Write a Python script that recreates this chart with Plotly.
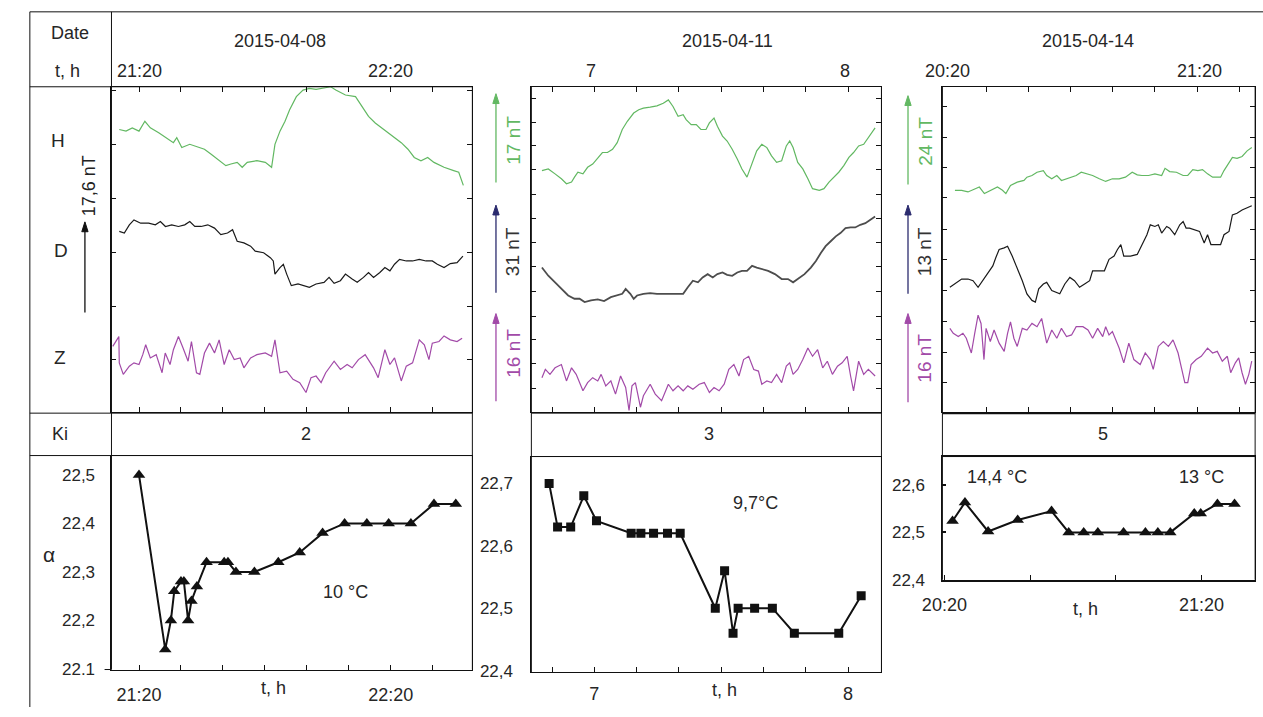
import plotly.graph_objects as go

W, H = 1263, 717
def fx(px): return px / W
def fy(py): return 1 - py / H

# ---------------- DATA ----------------
# Panel 1 (2015-04-08), time in minutes after 21:20, traces in relative units of panel height
p1_H_t = [-4.7,-3.1,-1.6,0,1.4,2.7,4.7,6.6,8.2,9.0,10.2,12.1,13.3,15.6,17.2,18.8,20.7,21.9,23.4,24.6,25.8,28.1,30.1,31.6,32.4,33.6,34.8,35.9,37.5,39.1,40.6,42.2,43.8,45.7,46.9,49.2,51.6,53.1,54.7,56.3,57.8,59.4,60.9,62.5,64.1,65.6,67.2,68.8,70.3,72.7,75.0,76.2,77.3]
p1_H_v = [86.0,85.5,86.5,85.5,88.5,86.5,85.0,83.5,82.0,83.5,80.5,81.5,81.0,80.0,78.5,77.0,75.0,75.5,76.0,74.5,76.0,76.5,76.0,74.5,81.5,85.5,88.5,92.0,96.0,98.0,98.5,98.2,98.5,99.0,98.0,96.5,96.0,93.0,90.0,88.0,86.5,85.0,83.5,82.0,80.0,77.5,76.5,77.5,76.0,74.5,73.5,73.0,69.0]
p1_D_t = [-4.7,-3.5,-2.3,-1.2,0.4,2.3,3.9,5.1,6.3,7.8,9.4,10.9,12.1,13.3,14.8,16.4,18.0,19.5,21.1,22.3,23.4,25.0,26.6,27.7,29.7,31.3,32.0,32.4,33.6,34.4,35.2,36.3,37.9,39.1,40.6,42.2,44.1,45.3,46.5,48.0,49.2,50.8,52.0,53.5,54.7,55.9,57.4,58.6,59.8,60.9,62.1,63.7,65.2,66.8,68.4,69.9,71.1,72.7,74.2,75.8,77.2]
p1_D_v = [55.0,54.5,57.0,58.5,57.5,57.5,57.0,58.0,56.5,57.0,56.5,57.0,58.0,56.5,56.5,57.0,56.0,54.0,54.5,55.5,52.0,51.5,50.5,49.0,48.5,47.0,46.0,42.0,44.0,45.0,42.0,38.5,39.0,38.5,38.0,39.0,39.5,41.0,39.2,40.0,42.0,40.5,39.5,41.0,42.5,41.0,42.5,44.0,43.0,45.0,46.5,46.0,46.0,46.5,46.0,46.0,45.0,44.0,45.2,45.5,47.5]
p1_Z_t = [-6.25,-4.8,-4.7,-3.75,-2.3,-1.2,0,0.9,1.6,2.7,4.1,5.5,6.25,7.4,8.2,9.4,10.5,11.7,12.5,13.7,14.5,15.6,16.8,18.0,19.1,20.3,21.5,22.7,24.1,25.0,26.6,28.1,30.1,31.6,32.4,33.6,35.2,36.7,38.3,39.8,41.0,42.2,43.4,44.5,46.5,48.0,49.6,50.8,52.3,53.9,55.9,57.0,58.6,59.8,60.9,62.5,63.7,65.2,66.8,68.0,69.1,69.9,71.5,72.7,74.2,75.8,77.0]
p1_Z_v = [20.0,23.0,15.0,11.5,14.0,15.0,14.5,17.5,20.5,16.5,17.5,12.0,18.0,14.5,19.0,23.0,19.5,15.5,21.5,12.0,11.5,18.0,21.0,18.0,22.0,14.5,19.0,16.0,16.5,13.5,16.5,17.5,18.0,17.0,22.0,12.0,12.5,10.0,9.0,6.0,10.5,11.0,9.0,12.0,15.5,13.0,14.5,13.5,16.0,17.5,13.5,10.5,19.0,14.5,16.5,9.5,14.0,15.0,22.0,20.5,16.0,21.0,21.5,23.2,22.0,21.5,22.5]

# Panel 2 (2015-04-11), minutes after 7:00
p2_H_t = [-12.4,-10.9,-9.3,-7.8,-6.6,-5.4,-4.7,-3.9,-2.7,-1.6,-0.4,0.8,1.9,3.1,4.3,5.4,6.6,7.8,9.3,10.5,11.6,13.2,14.8,16.3,17.5,18.6,19.8,21.0,21.7,22.9,24.1,25.2,26.4,27.2,28.3,29.1,30.3,31.4,32.6,33.8,34.9,36.1,37.3,38.4,39.6,40.8,41.9,43.1,44.3,45.4,46.2,47.0,48.1,49.3,50.5,51.6,53.2,54.3,55.5,56.7,57.8,59.0,60.2,61.3,62.5,63.7,64.8,66.4]
p2_H_v = [73.5,74.0,72.5,71.0,69.5,70.0,71.5,73.0,72.5,74.5,75.5,77.5,79.0,79.0,80.0,82.0,86.0,88.5,91.0,92.0,92.5,92.8,93.2,94.0,95.0,93.0,90.0,90.5,89.0,87.5,87.5,86.0,86.0,88.0,89.5,87.0,84.0,82.5,80.0,77.0,74.0,71.5,76.0,79.5,81.5,80.5,78.0,76.0,76.5,81.0,82.5,80.5,76.0,74.0,71.0,68.0,67.5,68.0,70.0,71.5,73.0,75.0,77.5,79.0,81.0,81.5,83.5,86.5]
p2_D_t = [-12.4,-10.9,-9.3,-7.8,-6.2,-4.7,-3.5,-2.3,-0.8,0.8,2.3,3.9,5.4,6.6,7.4,8.5,9.3,10.1,11.6,13.2,14.8,16.3,17.9,19.4,21.0,22.1,23.3,24.5,25.6,26.8,28.0,29.1,30.3,31.4,32.6,33.8,34.9,36.1,37.3,38.4,39.6,41.1,42.7,44.3,45.8,47.0,48.1,49.7,51.2,52.4,53.6,54.7,55.9,57.1,58.2,59.4,60.6,61.7,62.9,64.1,65.2,66.4]
p2_D_v = [44.0,41.5,39.5,37.5,35.5,34.5,34.5,33.5,34.0,34.3,33.8,35.0,35.5,36.0,37.5,36.0,34.5,35.5,36.0,36.2,36.0,36.0,36.0,36.0,36.0,38.0,40.0,39.5,41.0,42.0,41.0,42.0,42.5,41.8,41.5,42.5,43.0,43.0,44.5,44.0,43.5,43.0,42.0,40.5,40.5,39.5,40.5,42.0,44.0,46.0,48.5,50.5,52.0,53.5,54.5,56.0,56.2,56.2,57.0,57.5,58.5,59.5]
p2_Z_t = [-12.4,-11.6,-10.5,-9.3,-7.8,-6.6,-5.4,-4.3,-2.7,-1.6,-0.4,0.8,1.6,2.7,3.9,5.0,6.2,7.4,8.2,8.9,9.7,10.9,11.6,13.2,14.4,15.9,17.5,18.6,19.8,21.0,22.1,23.3,24.8,26.0,27.2,28.3,29.5,30.7,31.8,33.0,34.2,35.3,36.5,37.7,38.8,39.6,40.8,41.9,43.1,44.3,45.4,46.2,47.0,48.1,49.3,50.5,51.6,52.8,54.0,55.1,56.3,57.5,58.6,59.8,60.6,61.3,62.5,63.7,64.8,66.4]
p2_Z_v = [10.5,13.0,11.5,13.5,14.5,9.5,13.5,11.5,6.5,9.0,10.5,9.5,11.5,8.0,9.5,5.5,11.0,7.5,0.5,8.0,9.0,1.5,5.0,8.5,5.5,3.5,8.5,6.5,8.0,6.5,8.0,7.0,8.5,9.0,6.0,7.5,6.5,8.5,13.0,14.5,11.0,16.0,17.0,13.0,12.5,8.5,9.5,9.0,11.5,9.0,14.0,15.0,11.5,13.0,16.0,19.5,17.0,19.0,13.5,15.5,11.5,14.0,15.0,17.0,11.0,6.5,15.5,11.5,13.0,11.0]

# Panel 3 (2015-04-14), minutes after 20:20
p3_H_t = [2.5,4.1,5.6,7.2,8.3,9.5,11.1,12.6,13.8,14.6,15.7,17.3,18.9,19.6,20.8,22.0,23.5,24.3,25.5,26.7,27.8,29.0,30.2,31.3,32.5,33.7,35.2,36.8,38.3,39.9,41.5,43.0,44.6,45.8,46.9,48.5,50.0,51.6,52.4,53.5,55.1,56.7,57.8,59.0,60.2,61.3,62.5,63.7,64.8,65.6,66.4,67.6,68.4,69.5,70.7,71.9,73.0]
p3_H_v = [67.5,67.5,67.0,68.0,68.5,66.5,67.5,68.5,67.5,66.5,69.0,70.0,70.5,71.5,72.0,73.0,73.5,72.0,71.0,72.0,70.5,71.0,71.5,72.0,73.0,72.5,72.0,71.0,70.2,71.0,71.0,71.5,73.0,72.2,72.0,72.0,72.5,72.0,74.2,73.2,73.0,72.0,72.0,73.8,73.5,73.8,72.5,71.5,71.5,71.5,73.5,76.0,77.5,77.2,77.8,79.5,80.5]
p3_D_t = [1.3,2.5,4.1,5.6,6.8,8.0,9.1,10.3,11.5,12.2,13.0,14.2,15.0,16.1,17.3,18.5,19.6,20.8,21.6,22.4,23.5,24.3,25.5,26.7,27.4,28.6,29.8,30.9,32.1,33.3,34.5,35.2,36.4,38.0,39.1,40.3,41.1,41.9,42.6,44.2,45.8,46.9,48.1,48.9,50.0,50.8,51.6,52.8,53.5,54.7,55.9,56.7,57.4,58.2,59.4,60.6,61.7,62.5,63.3,64.5,65.6,66.4,67.6,68.4,69.5,70.7,71.9,73.0]
p3_D_v = [38.0,39.0,40.5,40.5,40.0,38.0,40.0,42.5,44.5,47.0,49.5,50.0,50.5,47.5,44.0,40.0,36.0,34.0,33.5,37.5,39.0,39.5,37.0,36.5,36.0,39.0,41.0,40.0,38.0,39.0,40.0,43.0,43.0,43.0,46.5,47.5,49.5,51.0,47.5,47.5,48.0,51.0,54.0,57.0,56.5,57.0,54.5,56.5,56.0,54.0,57.0,58.0,56.0,56.0,55.5,55.0,51.5,54.0,51.0,51.0,51.0,54.0,55.0,60.0,60.5,61.5,62.2,62.8]
p3_Z_t = [1.3,2.1,3.3,4.4,5.2,6.4,7.2,8.0,8.7,9.4,9.9,10.9,11.8,13.0,14.2,15.0,15.7,16.5,17.3,18.5,19.6,20.8,22.0,23.1,24.3,25.5,26.7,27.8,29.0,30.2,31.3,32.9,34.1,35.2,36.4,37.6,38.3,39.1,39.9,40.7,41.5,42.6,43.8,45.0,46.5,47.7,48.9,49.6,50.8,52.0,53.2,54.3,55.5,56.3,57.1,57.8,58.6,59.8,61.0,62.5,63.7,64.8,66.0,67.2,68.0,69.1,69.9,70.7,71.5,72.3,73.0]
p3_Z_v = [25.5,24.0,23.0,24.0,22.5,18.0,24.0,29.5,27.0,16.0,25.5,21.5,25.0,21.0,18.5,24.0,27.5,22.5,20.0,25.5,25.0,27.0,26.0,28.5,21.0,25.0,22.5,25.5,23.0,23.5,26.0,26.0,25.0,22.5,25.5,23.0,26.0,23.5,24.5,22.0,19.5,15.0,21.0,16.0,14.5,18.0,16.0,13.0,20.0,21.5,20.0,22.0,18.0,13.5,9.0,9.0,14.5,16.0,17.0,19.5,18.0,18.5,15.5,17.0,12.0,15.0,16.5,12.0,8.5,11.5,15.5]

# Lower panels: alpha values
a1_t = [0,6.25,7.6,8.4,10.0,10.7,11.7,12.5,13.8,16.1,20.3,21.2,23.1,27.5,33.2,38.3,43.75,49.0,54.3,59.5,64.8,70.3,75.5]
a1_v = [22.50,22.14,22.20,22.26,22.28,22.28,22.20,22.24,22.27,22.32,22.32,22.32,22.30,22.30,22.32,22.34,22.38,22.40,22.40,22.40,22.40,22.44,22.44]
a2_t = [-10.7,-8.7,-5.6,-2.5,0.5,8.7,11.0,14.0,17.3,20.3,28.6,30.8,32.8,34.0,37.9,42.1,47.3,57.8,63.1]
a2_v = [22.70,22.63,22.63,22.68,22.64,22.62,22.62,22.62,22.62,22.62,22.50,22.56,22.46,22.50,22.50,22.50,22.46,22.46,22.52]
a3_t = [1.9,4.8,10.2,17.1,25.0,29.0,32.5,35.8,41.8,46.9,49.8,52.7,58.3,59.8,63.7,67.7]
a3_v = [22.524,22.563,22.502,22.526,22.545,22.50,22.50,22.50,22.50,22.50,22.50,22.50,22.54,22.54,22.56,22.56]

dates = ["2015-04-08", "2015-04-11", "2015-04-14"]
ki_values = ["2", "3", "5"]
head_times = [("21:20", "22:20"), ("7", "8"), ("20:20", "21:20")]
temps = ["10 °C", "9,7°C", "14,4 °C", "13 °C"]
scales = ["17,6 nT", "17 nT", "31 nT", "16 nT", "24 nT", "13 nT", "16 nT"]

# ---------------- STYLE ----------------
GREEN = "#62b862"
PURPLE = "#a24aa8"
BLACK = "#1a1a1a"
GRAY = "#4d4d4d"
NAVY = "#2b2b6e"
FONT = "Arial, Liberation Sans, sans-serif"
TXT = "#262626"

fig = go.Figure()

def line(x, y, xa, ya, color, width=1.2):
    fig.add_trace(go.Scatter(x=x, y=y, xaxis=xa, yaxis=ya, mode="lines",
                             line=dict(color=color, width=width), showlegend=False, hoverinfo="skip"))

line(p1_H_t, p1_H_v, "x", "y", GREEN)
line(p1_D_t, p1_D_v, "x", "y", BLACK)
line(p1_Z_t, p1_Z_v, "x", "y", PURPLE)
line(p2_H_t, p2_H_v, "x3", "y3", GREEN)
line(p2_D_t, p2_D_v, "x3", "y3", GRAY, 1.8)
line(p2_Z_t, p2_Z_v, "x3", "y3", PURPLE)
line(p3_H_t, p3_H_v, "x5", "y5", GREEN)
line(p3_D_t, p3_D_v, "x5", "y5", BLACK)
line(p3_Z_t, p3_Z_v, "x5", "y5", PURPLE)

def markers(x, y, xa, ya, symbol, size):
    fig.add_trace(go.Scatter(x=x, y=y, xaxis=xa, yaxis=ya, mode="lines+markers",
                             line=dict(color="#111", width=2),
                             marker=dict(symbol=symbol, size=size, color="#111"),
                             showlegend=False, hoverinfo="skip"))

markers(a1_t, a1_v, "x2", "y2", "triangle-up", 11)
markers(a2_t, a2_v, "x4", "y4", "square", 9)
markers(a3_t, a3_v, "x6", "y6", "triangle-up", 11)

def upper_axes(xrange, xticks, yticks):
    xa = dict(range=xrange, tickvals=xticks, showticklabels=False, ticks="inside", ticklen=5,
              showline=True, mirror="ticks", linecolor="#111", linewidth=1, tickcolor="#111",
              showgrid=False, zeroline=False, fixedrange=True)
    ya = dict(range=[0, 99], tickvals=yticks, showticklabels=False, ticks="inside", ticklen=5,
              showline=True, mirror="ticks", linecolor="#111", linewidth=1, tickcolor="#111",
              showgrid=False, zeroline=False, fixedrange=True)
    return xa, ya

def lower_axes(xrange, xlab_vals, xtext, xminor, yrange, yticks, ytext, xstand, ystand,
               yticklen=0, bw=1):
    xa = dict(range=xrange, tickvals=xlab_vals, ticktext=xtext, ticks="inside", ticklen=5,
              minor=dict(tickvals=xminor, ticks="inside", ticklen=5, tickcolor="#111"),
              showline=True, mirror=True, linecolor="#111", linewidth=bw, tickcolor="#111",
              tickfont=dict(family=FONT, size=18, color=TXT), ticklabelstandoff=xstand,
              showgrid=False, zeroline=False, fixedrange=True)
    ya = dict(range=yrange, tickvals=yticks, ticktext=ytext,
              ticks="inside" if yticklen else "", ticklen=yticklen, tickwidth=2,
              showline=True, mirror=True, linecolor="#111", linewidth=1, tickcolor="#111",
              tickfont=dict(family=FONT, size=17, color=TXT), ticklabelstandoff=ystand,
              showgrid=False, zeroline=False, fixedrange=True)
    return xa, ya

UP = [fy(418), fy(88)]

x1, y1 = upper_axes([-6.56, 79.45], [0, 10, 20, 30, 40, 50, 60, 70], [16, 32.2, 48.5, 65, 81.5, 98])
x1.update(domain=[fx(92), fx(459)], anchor="y"); y1.update(domain=UP, anchor="x")

x3, y3 = upper_axes([-14.9, 67.9], [-10, 0, 10, 20, 30, 40, 50, 60],
                    [7.2, 14.7, 22.2, 29.2, 36.7, 44.2, 51.5, 59, 66.2, 73.8, 81.2, 88.2, 95.5])
x3.update(domain=[fx(519), fx(875)], anchor="y3"); y3.update(domain=UP, anchor="x3")

x5, y5 = upper_axes([-0.47, 73.8], [10, 20, 30, 40, 50, 60, 70],
                    [9, 18.2, 27.7, 37, 46.3, 55.7, 65.2, 74.5, 83.7, 93])
x5.update(domain=[fx(937), fx(1255)], anchor="y5"); y5.update(domain=UP, anchor="x5")

x2, y2 = lower_axes([-6.56, 79.45], [0, 60], ["21:20", "22:20"], [10, 20, 30, 40, 50, 70],
                    [22.0986, 22.54], [22.1, 22.2, 22.3, 22.4, 22.5],
                    ["22.1", "22,2", "22,3", "22,4", "22,5"], 9, 12)
x2.update(domain=[fx(92), fx(459)], anchor="y2"); y2.update(domain=[fy(679), fy(462)], anchor="x2")

x4, y4 = lower_axes([-14.9, 67.9], [0, 60], ["7", "8"], [-10, 10, 20, 30, 40, 50],
                    [22.397, 22.743], [22.4, 22.5, 22.6, 22.7],
                    ["22,4", "22,5", "22,6", "22,7"], 5, 14)
x4.update(domain=[fx(519), fx(875)], anchor="y4"); y4.update(domain=[fy(682), fy(463)], anchor="x4")

x6, y6 = lower_axes([-0.46, 72.5], [0, 60], ["20:20", "21:20"], [20, 40],
                    [22.4, 22.66], [22.4, 22.5, 22.6], ["22,4", "22,5", "22,6"], 8, 13,
                    yticklen=4, bw=2)
x6.update(domain=[fx(937), fx(1255)], anchor="y6"); y6.update(domain=[fy(588), fy(463)], anchor="x6")

# ---------------- TABLE LINES & ARROWS ----------------
shapes = []
def seg(x0, y0, x1_, y1_, w=1, color="#111"):
    shapes.append(dict(type="line", xref="paper", yref="paper", x0=fx(x0), y0=fy(y0),
                       x1=fx(x1_), y1=fy(y1_), line=dict(color=color, width=w)))

def arrow(px, yh, yt, color):
    seg(px, yt, px, yh + 6, 1.3, color)
    path = "M {:.5f},{:.5f} L {:.5f},{:.5f} L {:.5f},{:.5f} Z".format(
        fx(px), fy(yh), fx(px - 3.2), fy(yh + 10), fx(px + 3.2), fy(yh + 10))
    shapes.append(dict(type="path", xref="paper", yref="paper", path=path,
                       fillcolor=color, line=dict(color=color, width=1)))

seg(9, 12, 1263, 12)
seg(9, 12, 9, 717)
seg(92, 12, 92, 679)
seg(9, 88, 459, 88)
seg(9, 419, 459, 419)
seg(9, 462, 459, 462)
seg(459, 88, 459, 679)
seg(85, 679, 92, 679)
seg(519, 88, 519, 682)
seg(875, 88, 875, 682)
seg(519, 419, 875, 419)
seg(519, 463, 875, 463)
seg(937, 88, 937, 588)
seg(1255, 88, 1255, 588)
seg(937, 419, 1255, 419, 2)
seg(937, 463, 1255, 463)

arrow(65, 225, 317, "#111")
arrow(483, 95, 185, GREEN)
arrow(483, 208, 297, NAVY)
arrow(483, 318, 407, PURPLE)
arrow(902, 97, 187, GREEN)
arrow(902, 208, 298, NAVY)
arrow(902, 318, 408, PURPLE)

# ---------------- TEXT ----------------
ann = []
def txt(t, px, py, size=18, color=TXT, angle=0):
    ann.append(dict(text=t, x=fx(px), y=fy(py), xref="paper", yref="paper", showarrow=False,
                    xanchor="center", yanchor="middle", textangle=angle,
                    font=dict(family=FONT, size=size, color=color)))

txt("Date", 50, 33)
txt("t, h", 47, 72)
for d, xc in zip(dates, [263, 718, 1085]):
    txt(d, xc, 42)
for (a, b), (xa_, xb_) in zip(head_times, [(120, 376), (580, 838), (942, 1198)]):
    txt(a, xa_, 72)
    txt(b, xb_, 72)
txt("H", 38, 142, 19)
txt("D", 41, 254, 19)
txt("Z", 40, 363, 19)
txt("Ki", 40, 440)
for k, xc in zip(ki_values, [290, 700, 1100]):
    txt(k, xc, 440)
txt("α", 28, 562, 21)

txt(temps[0], 330, 600)
txt(temps[1], 747, 510)
txt(temps[2], 993, 484)
txt(temps[3], 1200, 484)
txt("t, h", 257, 698)
txt("t, h", 715, 700)
txt("t, h", 1083, 618)

txt(scales[0], 70, 188, 18, "#222", -90)
txt(scales[1], 500, 142, 19, GREEN, -90)
txt(scales[2], 500, 255, 19, "#333", -90)
txt(scales[3], 500, 358, 19, PURPLE, -90)
txt(scales[4], 919, 143, 19, GREEN, -90)
txt(scales[5], 919, 255, 19, "#333", -90)
txt(scales[6], 919, 363, 19, PURPLE, -90)

fig.update_layout(
    width=W, height=H, margin=dict(l=0, r=0, t=0, b=0),
    paper_bgcolor="white", plot_bgcolor="white", showlegend=False,
    font=dict(family=FONT, size=18, color=TXT),
    xaxis=x1, yaxis=y1, xaxis2=x2, yaxis2=y2, xaxis3=x3, yaxis3=y3,
    xaxis4=x4, yaxis4=y4, xaxis5=x5, yaxis5=y5, xaxis6=x6, yaxis6=y6,
    shapes=shapes, annotations=ann,
)

fig.write_html("out.html", config={"displayModeBar": False},
               post_script="document.body.style.margin='0px';")
